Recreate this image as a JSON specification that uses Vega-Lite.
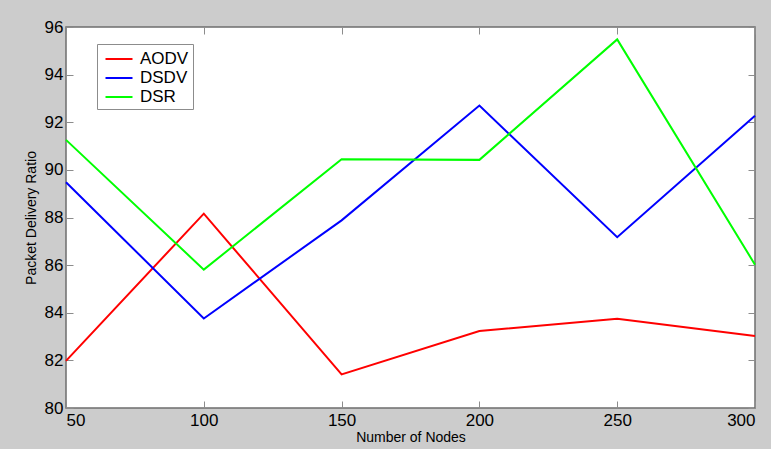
{
  "$schema": "https://vega.github.io/schema/vega-lite/v6.json",
  "width": 689,
  "height": 381,
  "autosize": {"type": "none"},
  "padding": {"left": 66, "top": 27, "right": 16, "bottom": 41},
  "background": "#cccccc",
  "config": {
    "font": "Liberation Sans",
    "view": {"fill": "white", "stroke": "#6e6e6e", "strokeWidth": 1.5},
    "axis": {
      "grid": false,
      "domain": false,
      "tickSize": -7,
      "tickColor": "#8c8c8c",
      "tickWidth": 1,
      "labelColor": "black",
      "labelFontSize": 17,
      "titleColor": "black",
      "titleFontSize": 14,
      "titleFontWeight": "normal"
    }
  },
  "data": {
    "values": [
      {"nodes": 50, "protocol": "AODV", "pdr": 81.98},
      {"nodes": 100, "protocol": "AODV", "pdr": 88.16},
      {"nodes": 150, "protocol": "AODV", "pdr": 81.41},
      {"nodes": 200, "protocol": "AODV", "pdr": 83.23},
      {"nodes": 250, "protocol": "AODV", "pdr": 83.75},
      {"nodes": 300, "protocol": "AODV", "pdr": 83.02},
      {"nodes": 50, "protocol": "DSDV", "pdr": 89.48},
      {"nodes": 100, "protocol": "DSDV", "pdr": 83.76},
      {"nodes": 150, "protocol": "DSDV", "pdr": 87.88},
      {"nodes": 200, "protocol": "DSDV", "pdr": 92.7},
      {"nodes": 250, "protocol": "DSDV", "pdr": 87.17},
      {"nodes": 300, "protocol": "DSDV", "pdr": 92.27},
      {"nodes": 50, "protocol": "DSR", "pdr": 91.26},
      {"nodes": 100, "protocol": "DSR", "pdr": 85.81},
      {"nodes": 150, "protocol": "DSR", "pdr": 90.45},
      {"nodes": 200, "protocol": "DSR", "pdr": 90.42},
      {"nodes": 250, "protocol": "DSR", "pdr": 95.48},
      {"nodes": 300, "protocol": "DSR", "pdr": 86.02}
    ]
  },
  "layer": [
    {
      "mark": {"type": "line", "strokeWidth": 2},
      "encoding": {
        "x": {
          "field": "nodes", "type": "quantitative",
          "scale": {"domain": [50, 300], "nice": false, "zero": false},
          "axis": {"values": [50, 100, 150, 200, 250, 300], "title": "Number of Nodes", "labelPadding": 11, "titlePadding": 2, "labelOverlap": false}
        },
        "y": {
          "field": "pdr", "type": "quantitative",
          "scale": {"domain": [80, 96], "nice": false, "zero": false},
          "axis": {"values": [80, 82, 84, 86, 88, 90, 92, 94, 96], "title": "Packet Delivery Ratio", "labelPadding": 10, "titlePadding": 6, "labelOverlap": false}
        },
        "color": {
          "field": "protocol", "type": "nominal",
          "scale": {"domain": ["AODV", "DSDV", "DSR"], "range": ["#ff0000", "#0000ff", "#00ff00"]},
          "legend": {
            "title": null,
            "orient": "none",
            "legendX": 31,
            "legendY": 17,
            "fillColor": "white",
            "strokeColor": "#8c8c8c",
            "padding": 4,
            "symbolType": "M-1.35,0L1.35,0",
            "symbolSize": 400,
            "symbolOffset": 7,
            "symbolStrokeWidth": 2,
            "labelFontSize": 17,
            "labelColor": "black",
            "labelOffset": 10,
            "labelExpr": "datum.label + '      '",
            "rowPadding": 0
          }
        }
      }
    },
    {
      "mark": {"type": "line", "opacity": 0},
      "encoding": {
        "x": {"field": "nodes", "type": "quantitative", "axis": {"orient": "top", "values": [50, 100, 150, 200, 250, 300], "labels": false, "title": null}},
        "y": {"field": "pdr", "type": "quantitative", "axis": {"orient": "right", "values": [80, 82, 84, 86, 88, 90, 92, 94, 96], "labels": false, "title": null}},
        "detail": {"field": "protocol", "type": "nominal"}
      }
    }
  ],
  "resolve": {"axis": {"x": "independent", "y": "independent"}}
}
